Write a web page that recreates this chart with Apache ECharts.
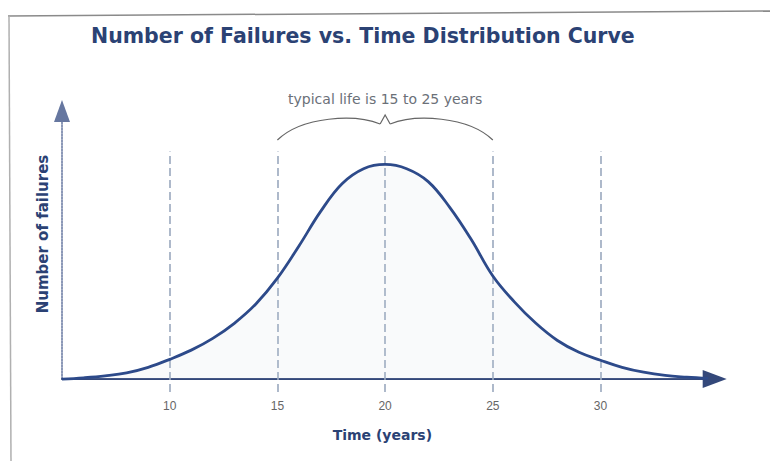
<!DOCTYPE html>
<html>
<head>
<meta charset="utf-8">
<script src="https://cdn.jsdelivr.net/npm/echarts@6/dist/echarts.min.js"></script>
<style>
  html, body { margin: 0; padding: 0; background: #ffffff; }
  #chart { width: 770px; height: 461px; }
</style>
</head>
<body>
<div id="chart"></div>
<script>
// --- data ---
var years = [5, 6, 7, 8, 9, 10, 11, 12, 13, 14, 15, 16, 17, 18, 19, 20,
             21, 22, 23, 24, 25, 26, 27, 28, 29, 30, 31, 32, 33, 34, 35];
var failures = [0, 0.6, 1.5, 2.9, 5.5, 9.2, 13.5, 19, 26, 35, 47, 62, 78, 91, 98, 100,
                98, 92, 80, 65, 48, 36, 26, 18, 12.5, 8.8, 5.5, 3.2, 1.7, 0.9, 0.3];
var xTicks = [10, 15, 20, 25, 30];
var typicalLife = [15, 25];

var navy = '#2b4274';
var curveColor = '#2d4a8a';
var dashColor = '#9aa8be';
var grey = '#666666';
var wideFont = '"DejaVu Sans"';

(function() {
  var chart = echarts.init(document.getElementById('chart'), null, { renderer: 'svg' });

  var pairs = years.map(function(x, i) { return [x, failures[i]]; });
  var guideLines = xTicks.map(function(v) {
    return [{ coord: [v, -6] }, { coord: [v, 106] }];
  });

  chart.setOption({
    animation: false,
    backgroundColor: '#ffffff',
    title: {
      text: 'Number of Failures vs. Time Distribution Curve',
      left: 86,
      top: 20,
      textStyle: {
        color: navy,
        fontFamily: wideFont,
        fontWeight: 'bold',
        fontSize: 20.5
      }
    },
    grid: [
      { left: 62, top: 100, right: 55.3, bottom: 69 },
      { left: 62, top: 111, right: 55.3, bottom: 82 }
    ],
    xAxis: [
      {
        type: 'value',
        gridIndex: 0,
        min: 5,
        max: 35.3,
        interval: 5,
        name: 'Time (years)',
        nameLocation: 'middle',
        nameGap: 36,
        nameTextStyle: {
          color: navy,
          fontFamily: wideFont,
          fontWeight: 'bold',
          fontSize: 14,
          padding: [0, 12, 0, 0]
        },
        axisLine: {
          onZero: true,
          symbol: ['none', 'triangle'],
          symbolSize: [18, 24],
          lineStyle: { color: '#34487a', width: 2 }
        },
        axisTick: { show: false },
        splitLine: { show: false },
        axisLabel: {
          margin: 8,
          color: grey,
          fontFamily: 'Liberation Sans',
          fontSize: 12,
          formatter: function(v) { return xTicks.indexOf(v) >= 0 ? String(v) : ''; }
        }
      },
      {
        type: 'value',
        gridIndex: 1,
        min: 5,
        max: 35.3,
        show: false
      }
    ],
    yAxis: [
      {
        type: 'value',
        gridIndex: 0,
        min: -6,
        max: 130,
        axisLine: { show: false },
        axisTick: { show: false },
        axisLabel: { show: false },
        splitLine: { show: false }
      },
      {
        type: 'value',
        gridIndex: 1,
        min: 0,
        max: 130,
        axisLine: {
          show: true,
          symbol: ['none', 'triangle'],
          symbolSize: [16, 22],
          lineStyle: { color: '#6677a0', width: 1.5, type: [2, 1] }
        },
        axisTick: { show: false },
        axisLabel: { show: false },
        splitLine: { show: false }
      }
    ],
    series: [
      {
        name: 'Failures',
        type: 'line',
        xAxisIndex: 0,
        yAxisIndex: 0,
        data: pairs,
        smooth: 0.4,
        symbol: 'none',
        z: 5,
        lineStyle: { color: curveColor, width: 2.8 },
        areaStyle: { color: 'rgba(200,208,222,0.16)', origin: 0 },
        markLine: {
          silent: true,
          symbol: ['none', 'none'],
          label: { show: false },
          lineStyle: { color: dashColor, width: 1.6, type: [8, 4] },
          data: guideLines
        }
      }
    ]
  });

  // brace and note over the typical-life span
  var l = chart.convertToPixel({ gridIndex: 0 }, [typicalLife[0], 0])[0];
  var r = chart.convertToPixel({ gridIndex: 0 }, [typicalLife[1], 0])[0];
  var m = (l + r) / 2;
  var braceStyle = { fill: 'none', stroke: '#666666', lineWidth: 1.2 };
  chart.setOption({
    graphic: [
      {
        type: 'line',
        shape: { x1: 8, y1: 16, x2: 770, y2: 11 },
        style: { stroke: '#8a8a8a', lineWidth: 1.5 },
        silent: true
      },
      {
        type: 'line',
        shape: { x1: 9, y1: 16, x2: 11, y2: 461 },
        style: { stroke: '#b0b0b0', lineWidth: 1.5 },
        silent: true
      },
      {
        type: 'bezierCurve',
        shape: { x1: l, y1: 140, cpx1: l + 25, cpy1: 116, cpx2: m - 30, cpy2: 114, x2: m - 5, y2: 124 },
        style: braceStyle,
        silent: true
      },
      {
        type: 'polyline',
        shape: { points: [[m - 5, 124], [m, 115], [m + 5, 124]] },
        style: braceStyle,
        silent: true
      },
      {
        type: 'bezierCurve',
        shape: { x1: m + 5, y1: 124, cpx1: m + 30, cpy1: 114, cpx2: r - 25, cpy2: 116, x2: r, y2: 140 },
        style: braceStyle,
        silent: true
      },
      {
        type: 'text',
        x: m,
        y: 99,
        style: {
          text: 'typical life is ' + typicalLife[0] + ' to ' + typicalLife[1] + ' years',
          fill: '#6b7078',
          font: '14px ' + wideFont,
          textAlign: 'center',
          textVerticalAlign: 'middle'
        },
        silent: true
      },
      {
        type: 'text',
        x: 43,
        y: 234,
        rotation: Math.PI / 2,
        style: {
          text: 'Number of failures',
          fill: navy,
          font: 'bold 15px ' + wideFont,
          textAlign: 'center',
          textVerticalAlign: 'middle'
        },
        silent: true
      }
    ]
  });

  window.addEventListener('resize', function() { chart.resize(); });
})();
</script>
</body>
</html>
